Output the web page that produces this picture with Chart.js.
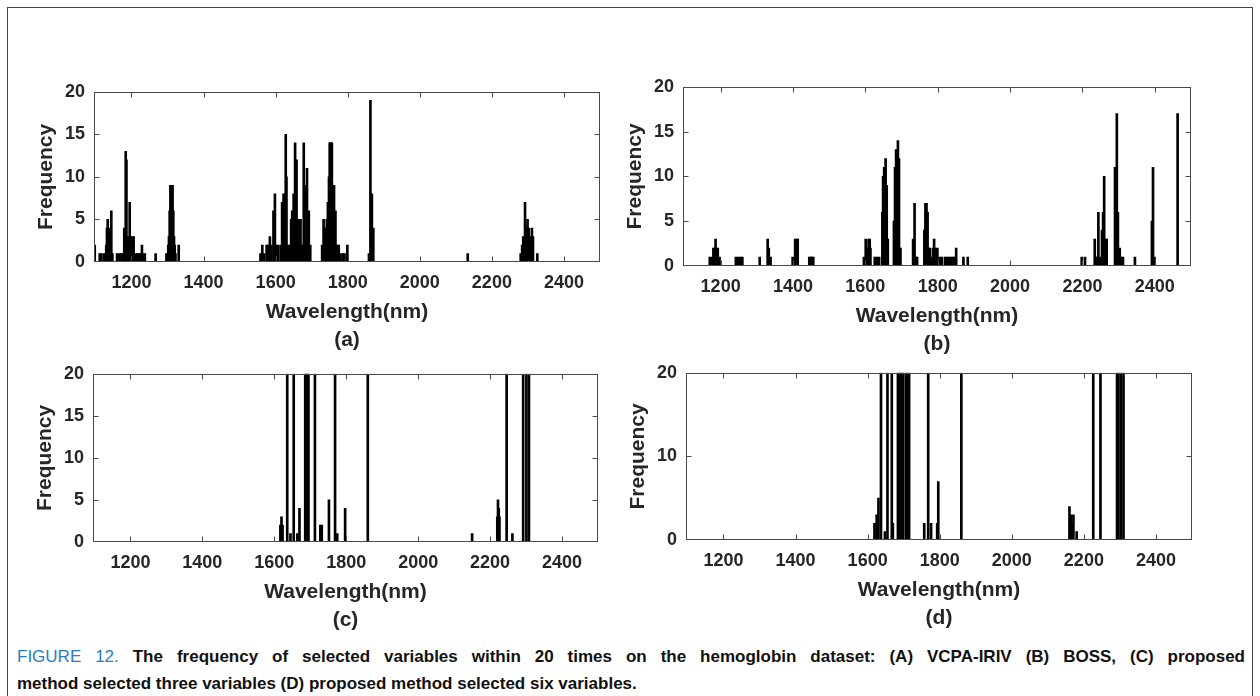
<!DOCTYPE html>
<html>
<head>
<meta charset="utf-8">
<script src="https://cdn.jsdelivr.net/npm/chart.js@4.4.0/dist/chart.umd.min.js"></script>
<style>
  html, body { margin: 0; padding: 0; background: #fff; width: 1260px; height: 696px; overflow: hidden; }
  #frame { position: absolute; left: 7px; top: 7px; width: 1244px; height: 720px; border: 1px solid #444; }
  canvas { position: absolute; }
  #cap { position: absolute; left: 17px; top: 643px; width: 1228px; font: bold 17px 'Liberation Sans', Arial, sans-serif; color: #111; line-height: 27px; }
  #cap .l1 { text-align: justify; text-align-last: justify; }
  #cap .fig { color: #2b7bbf; font-weight: normal; }
</style>
</head>
<body>
<div id="frame"></div>
<canvas id="pa"></canvas>
<canvas id="pb"></canvas>
<canvas id="pc"></canvas>
<canvas id="pd"></canvas>
<div id="cap">
  <div class="l1"><span class="fig">FIGURE 12.</span> The frequency of selected variables within 20 times on the hemoglobin dataset: (A) VCPA-IRIV (B) BOSS, (C) proposed</div>
  <div class="l2">method selected three variables (D) proposed method selected six variables.</div>
</div>
<script>
// axes
const XTICKS = [1200, 1400, 1600, 1800, 2000, 2200, 2400];
const X_MIN = 1096, X_MAX = 2500;
const YTICKS_5 = [0, 5, 10, 15, 20];
const YTICKS_10 = [0, 10, 20];

// (a) VCPA-IRIV
const A_WL = [1098,1112,1116,1123,1127,1130,1132,1134,1136,1138,1140,1142,1144,1147,
  1160,1166,1172,1176,1180,1184,1186,1190,1193,1195,1198,1202,1206,1212,1216,1220,1224,1229,1233,1237,
  1267,
  1297,1300,1302,1304,1306,1308,1310,1312,1314,1316,1318,1320,1322,1331,
  1558,1563,1568,1575,1579,1584,1588,1594,1598,1602,1607,
  1614,1618,1622,1625,1628,1630,1634,
  1639,1643,1646,1650,1654,1658,1661,1664,1666,1669,
  1674,1678,1682,1684,1687,1692,1696,
  1729,1733,1736,1739,1742,1745,1748,1750,1752,1754,1756,1759,1762,1766,1770,1775,1780,1787,1791,1799,
  1859,1863,1867,1871,
  2133,
  2280,2284,2287,2289,2292,2296,2299,2302,2304,2308,2311,2314,2326];
const A_FREQ = [2,1,1,1,1,2,4,5,3,4,3,3,6,1,
  1,1,1,1,4,13,12,3,3,7,3,3,3,1,1,1,1,2,1,1,
  1,
  1,1,2,3,6,9,9,9,9,6,3,2,1,2,
  1,2,1,2,2,3,2,6,8,2,2,
  2,7,8,8,15,10,2,
  2,5,6,8,14,12,5,2,5,5,
  2,14,9,9,11,6,2,
  2,5,4,4,5,7,10,14,14,14,14,7,9,6,2,2,1,1,1,2,
  1,19,8,4,
  1,
  1,2,3,1,7,4,5,4,3,3,4,3,1];

// (b) BOSS
const B_WL = [1170,1176,1180,1184,1186,1188,1192,1197,
  1242,1248,1254,1260,
  1308,
  1330,1333,1338,
  1399,1406,1410,1413,
  1445,1449,1452,1456,
  1596,1601,1605,1609,1612,1614,
  1626,1632,1638,
  1647,1649,1652,1656,1659,1662,
  1679,1682,1685,1688,1690,1693,1697,
  1732,1736,1740,1743,
  1763,1766,1769,1772,1775,1779,1783,1788,1790,1793,1799,
  1806,1812,1821,1826,1831,1837,1842,1846,1851,1871,1883,
  2198,2207,
  2234,2237,2240,2244,2249,2254,2257,2260,2265,2267,
  2290,2295,2298,2303,2308,2312,
  2345,2392,2395,2399,2463];
const B_FREQ = [1,1,2,2,3,2,2,1,
  1,1,1,1,
  1,
  3,2,1,
  1,3,3,3,
  1,1,1,1,
  1,3,2,3,3,2,
  1,1,1,
  6,10,11,12,9,3,
  5,11,13,13,14,12,2,
  3,7,1,1,
  4,7,7,6,2,2,1,2,3,2,2,
  1,1,1,1,1,1,1,1,2,1,1,
  1,1,
  3,1,1,6,1,4,6,10,3,3,
  11,17,6,2,1,1,
  1,5,11,1,17];

// (c) proposed, three variables
const C_WL = [1617,1620,1623,1636,1645,1654,1664,1670,1686,1688,1690,1693,1695,1713,1728,1732,
  1752,1769,1775,1797,1860,2150,2220,2222,2224,2226,2246,2262,2292,2301,2308];
const C_FREQ = [2,3,2,20,1,20,1,4,20,20,20,20,20,20,2,2,
  5,20,1,4,20,1,3,5,4,3,20,1,20,20,20];

// (d) proposed, six variables
const D_WL = [1619,1625,1630,1637,1648,1655,1667,1670,1684,1687,1690,1693,1696,1699,1707,1711,1715,
  1757,1768,1776,1793,1796,1860,2160,2164,2168,2171,2180,2226,2246,2292,2296,2303,2310];
const D_FREQ = [2,3,5,20,1,20,20,2,20,20,20,20,20,20,20,20,20,
  2,20,2,2,7,20,4,3,2,3,1,20,20,20,20,20,20];

const FONT = "'Liberation Sans', Arial, sans-serif";
const INK = '#262626';
const AXIS = '#4a4a4a';
const TICK_LEN = 5;

// matlab style box with inward ticks on all four sides
const boxAxes = {
  id: 'boxAxes',
  afterDatasetsDraw(chart) {
    const { ctx, chartArea: a, scales: { x, y } } = chart;
    const L = Math.round(a.left) + 0.5, R = Math.round(a.right) - 0.5;
    const T = Math.round(a.top) + 0.5, B = Math.round(a.bottom) - 0.5;
    ctx.save();
    ctx.strokeStyle = AXIS;
    ctx.lineWidth = 1;
    ctx.strokeRect(L, T, R - L, B - T);
    ctx.beginPath();
    x.ticks.forEach(t => {
      const p = Math.round(x.getPixelForValue(t.value)) + 0.5;
      ctx.moveTo(p, B); ctx.lineTo(p, B - TICK_LEN);
      ctx.moveTo(p, T); ctx.lineTo(p, T + TICK_LEN);
    });
    y.ticks.forEach(t => {
      if (t.value === y.min || t.value === y.max) return;
      const p = Math.round(y.getPixelForValue(t.value)) + 0.5;
      ctx.moveTo(L, p); ctx.lineTo(L + TICK_LEN, p);
      ctx.moveTo(R, p); ctx.lineTo(R - TICK_LEN, p);
    });
    ctx.stroke();
    ctx.restore();
  }
};

function makePanel(id, box, wl, freq, yTicks, letter) {
  const yW = 72, xH = 92, padT = 14, padR = 8;
  const cv = document.getElementById(id);
  const left = box.l - yW, top = box.t - padT;
  const w = box.r + padR - left, h = box.b + xH - top;
  cv.style.left = left + 'px';
  cv.style.top = top + 'px';
  cv.width = w; cv.height = h;
  cv.style.width = w + 'px'; cv.style.height = h + 'px';

  new Chart(cv, {
    type: 'bar',
    data: {
      datasets: [{
        data: wl.map((x, i) => ({ x: x, y: freq[i] })),
        backgroundColor: '#000',
        borderWidth: 0,
        barThickness: 2
      }]
    },
    options: {
      responsive: false,
      animation: false,
      devicePixelRatio: 1,
      events: [],
      layout: { padding: { left: 0, top: padT, right: padR, bottom: 0 } },
      plugins: { legend: { display: false }, tooltip: { enabled: false } },
      scales: {
        x: {
          type: 'linear', min: X_MIN, max: X_MAX, offset: false,
          afterBuildTicks: s => { s.ticks = XTICKS.map(v => ({ value: v })); },
          afterFit: s => { s.height = xH; },
          grid: { display: false, drawTicks: false },
          border: { display: false },
          ticks: { color: INK, font: { family: FONT, size: 18, weight: 'bold' }, padding: 10,
                   maxRotation: 0, autoSkip: false, callback: v => String(v) },
          title: { display: true, text: ['Wavelength(nm)', '(' + letter + ')'], color: INK,
                   font: { family: FONT, size: 21, weight: 'bold', lineHeight: 28 / 21 },
                   padding: { top: 0, bottom: 0 } }
        },
        y: {
          min: 0, max: 20,
          afterBuildTicks: s => { s.ticks = yTicks.map(v => ({ value: v })); },
          afterFit: s => { s.width = yW; },
          grid: { display: false, drawTicks: false },
          border: { display: false },
          ticks: { color: INK, font: { family: FONT, size: 18, weight: 'bold' }, padding: 9,
                   callback: v => String(v) },
          title: { display: true, text: 'Frequency', color: INK,
                   font: { family: FONT, size: 21, weight: 'bold' },
                   padding: { top: 12, bottom: 0 } }
        }
      }
    },
    plugins: [boxAxes]
  });
}

makePanel('pa', { l: 94, t: 86, r: 600, b: 262 }, A_WL, A_FREQ, YTICKS_5, 'a');
makePanel('pb', { l: 683, t: 81, r: 1191, b: 266 }, B_WL, B_FREQ, YTICKS_5, 'b');
makePanel('pc', { l: 93, t: 368, r: 598, b: 542 }, C_WL, C_FREQ, YTICKS_5, 'c');
makePanel('pd', { l: 686, t: 367, r: 1192, b: 540 }, D_WL, D_FREQ, YTICKS_10, 'd');
</script>
</body>
</html>
